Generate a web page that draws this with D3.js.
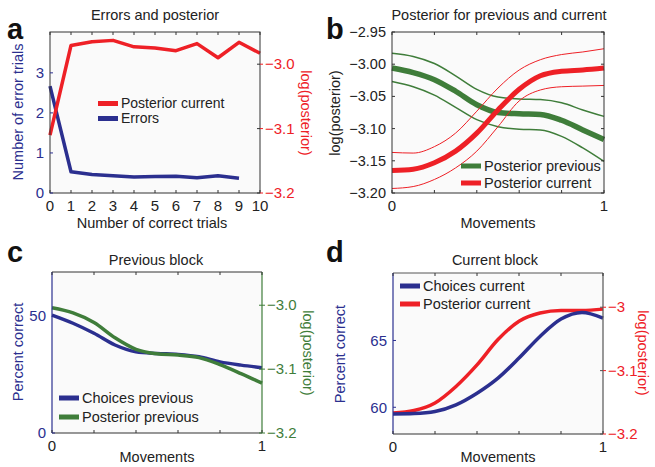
<!DOCTYPE html>
<html><head><meta charset="utf-8">
<script src="https://cdn.jsdelivr.net/npm/d3@7"></script>
<style>body{margin:0;background:#fff}svg{display:block;font-family:"Liberation Sans",Arial,sans-serif}</style>
</head><body><svg id="c" width="655" height="467"></svg>
<script>
// ---- Data ----
const trialsA = [0,1,2,3,4,5,6,7,8,9,10];
const errorsA = [2.67,0.53,0.46,0.43,0.40,0.41,0.42,0.38,0.43,0.37];
const posteriorCurrentA = [-3.110,-2.971,-2.965,-2.963,-2.973,-2.975,-2.979,-2.968,-2.990,-2.966,-2.983];

const movements = [0,0.1,0.2,0.3,0.4,0.5,0.6,0.7,0.8,0.9,1.0];
const postPrevB = [-3.006,-3.013,-3.024,-3.042,-3.063,-3.075,-3.077,-3.078,-3.087,-3.102,-3.117];
const postPrevUpperB = [-2.983,-2.988,-2.999,-3.018,-3.039,-3.051,-3.054,-3.055,-3.060,-3.071,-3.081];
const postPrevLowerB = [-3.027,-3.035,-3.048,-3.067,-3.086,-3.097,-3.101,-3.102,-3.112,-3.130,-3.151];
const postCurB = [-3.165,-3.163,-3.153,-3.135,-3.107,-3.071,-3.039,-3.018,-3.011,-3.009,-3.006];
const postCurUpperB = [-3.137,-3.138,-3.128,-3.107,-3.073,-3.037,-3.009,-2.993,-2.985,-2.981,-2.976];
const postCurLowerB = [-3.193,-3.190,-3.179,-3.161,-3.135,-3.097,-3.057,-3.040,-3.035,-3.034,-3.033];

const choicesPrevC = [50.4,46.9,42.6,37.6,34.7,34.0,33.6,32.6,30.4,29.0,27.9];
const postPrevC = [-3.004,-3.012,-3.027,-3.051,-3.069,-3.076,-3.078,-3.082,-3.093,-3.107,-3.122];

const choicesCurD = [59.50,59.53,59.68,60.18,61.05,62.18,63.68,65.30,66.60,67.10,66.68];
const postCurD = [-3.167,-3.163,-3.151,-3.125,-3.091,-3.051,-3.022,-3.009,-3.005,-3.005,-3.003];

const xTicksA = [0,1,2,3,4,5,6,7,8,9,10];
const movTicks = [0,0.2,0.4,0.6,0.8,1];
const movTickLabels = ["0","1"];

// ---- Style ----
const RED = "#ee2026", BLUE = "#2b2f8f", GREEN = "#3f7d3a", FRAME = "#333";
const svg = d3.select("#c");
const minus = s => s.replace("-", "\u2212");

function frame(b) {
  const g = svg.append("g");
  g.append("rect").attr("x", b.x0).attr("y", b.y0).attr("width", b.x1 - b.x0).attr("height", b.y1 - b.y0).attr("fill", "#fafafa");
  return g;
}
function text(g, x, y, s, o) {
  o = o || {};
  const t = g.append("text").attr("x", x).attr("y", y).text(s)
    .attr("font-size", o.size || 14.5).attr("fill", o.color || "#222")
    .attr("text-anchor", o.anchor || "middle");
  if (o.weight) t.attr("font-weight", o.weight);
  if (o.rotate) t.attr("transform", `rotate(${o.rotate},${x},${y})`);
  if (o.dy) t.attr("dy", o.dy);
  return t;
}
function hline(g, x0, x1, y, c, w) { g.append("line").attr("x1", x0).attr("x2", x1).attr("y1", y).attr("y2", y).attr("stroke", c).attr("stroke-width", w); }
function vline(g, x, y0, y1, c, w) { g.append("line").attr("x1", x).attr("x2", x).attr("y1", y0).attr("y2", y1).attr("stroke", c).attr("stroke-width", w); }

function xTicks(g, x, b, ticks, labels, col) {
  ticks.forEach(t => {
    vline(g, x(t), b.y1, b.y1 - 3, col, 1);
    vline(g, x(t), b.y0, b.y0 + 3, col, 1);
  });
  labels.forEach(l => text(g, x(+l), b.y1 + 18, l, { size: 15 }));
}
function yTicksL(g, y, b, ticks, fmt, col, tcol, size) {
  ticks.forEach(t => { hline(g, b.x0, b.x0 + 3, y(t), tcol || col, 1); text(g, b.x0 - 6, y(t), fmt(t), { size: size || 15, color: col, anchor: "end", dy: "0.35em" }); });
}
function yTicksR(g, y, b, ticks, fmt, col, tcol) {
  ticks.forEach(t => { hline(g, b.x1, b.x1 - 3, y(t), tcol || col, 1); hline(g, b.x1, b.x1 + 3, y(t), col, 1); text(g, b.x1 + 5, y(t), fmt(t), { size: 15, color: col, anchor: "start", dy: "0.35em" }); });
}
function path(g, xs, ys, x, y, col, w, curve) {
  g.append("path").datum(ys.map((v, i) => [xs[i], v]))
    .attr("d", d3.line().x(d => x(d[0])).y(d => y(d[1])).curve(curve || d3.curveMonotoneX))
    .attr("fill", "none").attr("stroke", col).attr("stroke-width", w).attr("stroke-linejoin", "round");
}
function legend(g, x, y, items, dy, size) {
  items.forEach((it, i) => {
    hline(g, x, x + 20, y + i * dy, it.color, 5);
    text(g, x + 23, y + i * dy, it.label, { anchor: "start", dy: "0.35em", size: size || 14.5 });
  });
}

// ---- Panel a ----
{
  const b = { x0: 50, x1: 260, y0: 32, y1: 193 };
  const g = frame(b);
  const x = d3.scaleLinear().domain([0, 10]).range([b.x0, b.x1]);
  const yL = d3.scaleLinear().domain([0, 4.02]).range([b.y1, b.y0]);
  const yR = d3.scaleLinear().domain([-3.2, -2.95]).range([b.y1, b.y0]);
  path(g, trialsA.slice(0, errorsA.length), errorsA, x, yL, BLUE, 3.5, d3.curveLinear);
  path(g, trialsA, posteriorCurrentA, x, yR, RED, 3.5, d3.curveLinear);
  g.append("rect").attr("x", b.x0).attr("y", b.y0).attr("width", b.x1 - b.x0).attr("height", b.y1 - b.y0).attr("fill", "none").attr("stroke", FRAME).attr("stroke-width", 1);
  xTicks(g, x, b, xTicksA, xTicksA.map(String), FRAME);
  yTicksL(g, yL, b, [0, 1, 2, 3], d => String(d), BLUE, BLUE);
  yTicksR(g, yR, b, [-3.2, -3.1, -3.0], d => minus(d.toFixed(1)), RED, FRAME);
  text(g, 155, 20, "Errors and posterior");
  text(g, 152, 228, "Number of correct trials");
  text(g, 23, 112, "Number of error trials", { rotate: -90, color: BLUE });
  text(g, 301, 113, "log(posterior)", { rotate: 90, color: RED });
  text(g, 7, 39, "a", { size: 29, weight: "bold", anchor: "start", color: "#111" });
  legend(g, 98, 103.5, [{ color: RED, label: "Posterior current" }, { color: BLUE, label: "Errors" }], 15, 14);
}

// ---- Panel b ----
{
  const b = { x0: 392, x1: 604, y0: 32, y1: 193 };
  const g = frame(b);
  const x = d3.scaleLinear().domain([0, 1]).range([b.x0, b.x1]);
  const y = d3.scaleLinear().domain([-3.2, -2.95]).range([b.y1, b.y0]);
  path(g, movements, postPrevUpperB, x, y, GREEN, 1.5);
  path(g, movements, postPrevLowerB, x, y, GREEN, 1.5);
  path(g, movements, postPrevB, x, y, GREEN, 5.5);
  path(g, movements, postCurUpperB, x, y, RED, 1);
  path(g, movements, postCurLowerB, x, y, RED, 1);
  path(g, movements, postCurB, x, y, RED, 5);
  g.append("rect").attr("x", b.x0).attr("y", b.y0).attr("width", b.x1 - b.x0).attr("height", b.y1 - b.y0).attr("fill", "none").attr("stroke", FRAME).attr("stroke-width", 1);
  xTicks(g, x, b, movTicks, movTickLabels, FRAME);
  const yt = [-3.2, -3.15, -3.1, -3.05, -3.0, -2.95];
  yTicksL(g, y, b, yt, d => minus(d.toFixed(2)), "#222", FRAME, 14.5);
  yt.forEach(t => hline(g, b.x1, b.x1 - 3, y(t), FRAME, 1));
  text(g, 499, 20, "Posterior for previous and current");
  text(g, 498, 228, "Movements");
  text(g, 340, 113, "log(posterior)", { rotate: -90 });
  text(g, 326, 39, "b", { size: 29, weight: "bold", anchor: "start", color: "#111" });
  legend(g, 461, 166, [{ color: GREEN, label: "Posterior previous" }, { color: RED, label: "Posterior current" }], 17);
}

// ---- Panel c ----
{
  const b = { x0: 52, x1: 262, y0: 272, y1: 433 };
  const g = frame(b);
  const x = d3.scaleLinear().domain([0, 1]).range([b.x0, b.x1]);
  const yL = d3.scaleLinear().domain([0, 68.8]).range([b.y1, b.y0]);
  const yR = d3.scaleLinear().domain([-3.2, -2.948]).range([b.y1, b.y0]);
  path(g, movements, choicesPrevC, x, yL, BLUE, 3.5);
  path(g, movements, postPrevC, x, yR, GREEN, 3.5);
  hline(g, b.x0, b.x1, b.y0, FRAME, 1);
  hline(g, b.x0, b.x1, b.y1, FRAME, 1);
  vline(g, b.x0, b.y0, b.y1, BLUE, 1.2);
  vline(g, b.x1, b.y0, b.y1, GREEN, 1.2);
  xTicks(g, x, b, movTicks, movTickLabels, FRAME);
  yTicksL(g, yL, b, [0, 50], d => String(d), BLUE, BLUE);
  yTicksR(g, yR, b, [-3.2, -3.1, -3.0], d => minus(d.toFixed(1)), GREEN, GREEN);
  text(g, 156, 265, "Previous block");
  text(g, 157, 462, "Movements");
  text(g, 23, 352, "Percent correct", { rotate: -90, color: BLUE });
  text(g, 303, 353, "log(posterior)", { rotate: 90, color: GREEN });
  text(g, 7, 262, "c", { size: 29, weight: "bold", anchor: "start", color: "#111" });
  legend(g, 59, 398, [{ color: BLUE, label: "Choices previous" }, { color: GREEN, label: "Posterior previous" }], 19);
}

// ---- Panel d ----
{
  const b = { x0: 393, x1: 603, y0: 273, y1: 434 };
  const g = frame(b);
  const x = d3.scaleLinear().domain([0, 1]).range([b.x0, b.x1]);
  const yL = d3.scaleLinear().domain([58, 70.05]).range([b.y1, b.y0]);
  const yR = d3.scaleLinear().domain([-3.2, -2.946]).range([b.y1, b.y0]);
  path(g, movements, postCurD, x, yR, RED, 3.5);
  path(g, movements, choicesCurD, x, yL, BLUE, 3.5);
  hline(g, b.x0, b.x1, b.y0, "#555", 1);
  hline(g, b.x0, b.x1, b.y1, FRAME, 1);
  vline(g, b.x0, b.y0, b.y1, BLUE, 1.2);
  vline(g, b.x1, b.y0, b.y1, "#555", 1.2);
  xTicks(g, x, b, movTicks, movTickLabels, FRAME);
  yTicksL(g, yL, b, [60, 65], d => String(d), BLUE, BLUE);
  yTicksR(g, yR, b, [-3.2, -3.1, -3.0], d => d === -3 ? "\u22123" : minus(d.toFixed(1)), RED, "#555");
  text(g, 495, 265, "Current block");
  text(g, 498, 462, "Movements");
  text(g, 345, 354, "Percent correct", { rotate: -90, color: BLUE });
  text(g, 638, 353, "log(posterior)", { rotate: 90, color: RED });
  text(g, 326, 262, "d", { size: 29, weight: "bold", anchor: "start", color: "#111" });
  legend(g, 400, 286, [{ color: BLUE, label: "Choices current" }, { color: RED, label: "Posterior current" }], 18);
}
</script></body></html>
